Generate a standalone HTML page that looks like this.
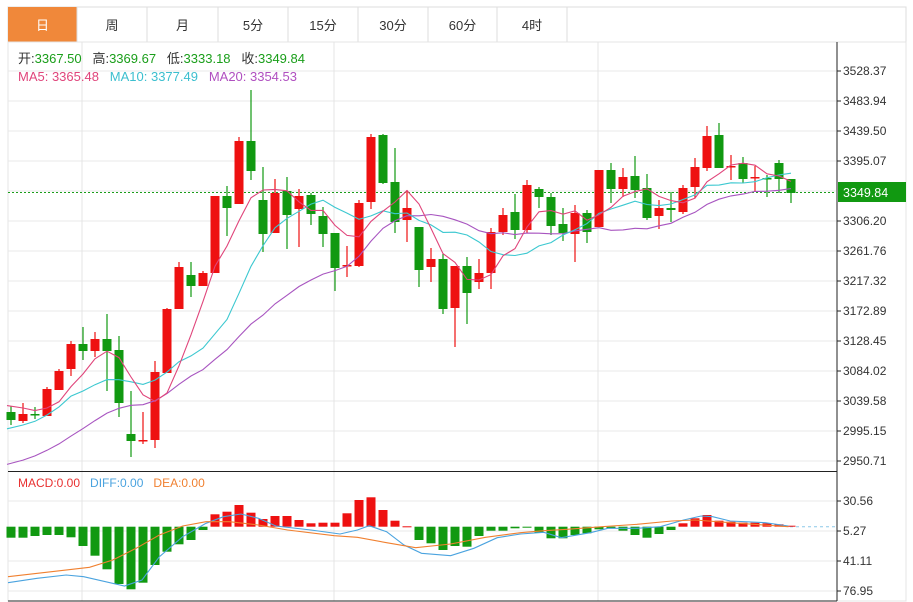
<!DOCTYPE html>
<html><head><meta charset="utf-8">
<style>
html,body{margin:0;padding:0;background:#fff;}
body{width:913px;height:602px;overflow:hidden;position:relative;font-family:"Liberation Sans","Noto Sans CJK SC",sans-serif;}
svg{position:absolute;left:0;top:0;}
</style></head><body>
<svg id="s" width="913" height="602" xmlns="http://www.w3.org/2000/svg" font-family="Liberation Sans, Noto Sans CJK SC, sans-serif"></svg>
<script>
var o=[];
function a(t){o.push(t);}
var tb=[8,77,147,218,288,358,428,497,567,906],tl=["日","周","月","5分","15分","30分","60分","4时",""];
a('<rect x="8" y="7" width="898" height="35" fill="#fff" stroke="#ddd"/>');
for(var i=0;i<9;i++){var x0=tb[i],x1=tb[i+1];
 if(i==0)a('<rect x="8" y="7" width="69" height="35" fill="#f0883a"/>');
 else a('<line x1="'+x0+'" y1="7" x2="'+x0+'" y2="42" stroke="#ddd"/>');
 a('<text x="'+((x0+x1)/2)+'" y="30" font-size="13" text-anchor="middle" fill="'+(i==0?'#fff':'#333')+'">'+tl[i]+'</text>');}
a('<rect x="8" y="42" width="898" height="559" fill="none" stroke="#e4e4e4"/>');
for(var k=0;k<14;k++){var y=71+k*30;a('<line x1="8" y1="'+y+'" x2="836" y2="'+y+'" stroke="#e8e8e8"/>');}
[501,531,561,591].forEach(function(y){a('<line x1="8" y1="'+y+'" x2="836" y2="'+y+'" stroke="#e8e8e8"/>');});
[82,334,598].forEach(function(x){a('<line x1="'+x+'" y1="42" x2="'+x+'" y2="601" stroke="#e4e4e4"/>');});
a('<line x1="837" y1="42" x2="837" y2="601" stroke="#222"/>');
a('<line x1="8" y1="471.5" x2="837" y2="471.5" stroke="#222"/>');
a('<line x1="8" y1="601" x2="837" y2="601" stroke="#222"/>');
var pl=["3528.37","3483.94","3439.50","3395.07","3350.63","3306.20","3261.76","3217.32","3172.89","3128.45","3084.02","3039.58","2995.15","2950.71"];
for(var k=0;k<14;k++){if(k==4)continue;var y=71+k*30;a('<line x1="837" y1="'+y+'" x2="841" y2="'+y+'" stroke="#222"/>');a('<text x="843" y="'+(y+4)+'" font-size="12" fill="#333">'+pl[k]+'</text>');}
[["30.56",501],["5.27",531],["41.11",561],["76.95",591]].forEach(function(p){a('<line x1="837" y1="'+p[1]+'" x2="841" y2="'+p[1]+'" stroke="#222"/>');a('<text x="843" y="'+(p[1]+4)+'" font-size="12" fill="#333">'+p[0]+'</text>');});
a('<text x="18" y="63" font-size="13" fill="#333" xml:space="preserve">开:<tspan fill="#1a9e1a">3367.50</tspan>   高:<tspan fill="#1a9e1a">3369.67</tspan>   低:<tspan fill="#1a9e1a">3333.18</tspan>   收:<tspan fill="#1a9e1a">3349.84</tspan></text>');
a('<text x="18" y="81" font-size="13" fill="#e0457b" xml:space="preserve">MA5: 3365.48   <tspan fill="#3cbfcf">MA10: 3377.49</tspan>   <tspan fill="#b050c0">MA20: 3354.53</tspan></text>');
a('<text x="18" y="487" font-size="12" fill="#e83030" xml:space="preserve">MACD:0.00   <tspan fill="#4aa3df">DIFF:0.00</tspan>   <tspan fill="#f08030">DEA:0.00</tspan></text>');
var C=[[412,420,406,425,0],[414,421,403,423,1],[414,415,407,419,0],[389,416,387,416,1],[371,390,369,390,1],[344,369,341,376,1],[344,351,327,360,0],[339,351,332,357,1],[339,351,314,391,0],[350,403,336,417,0],[434,441,391,457,0],[440,441,412,444,1],[372,440,361,448,1],[309,373,308,373,1],[267,309,262,309,1],[275,286,262,297,0],[273,286,271,286,1],[196,273,196,273,1],[196,208,186,236,0],[141,204,137,204,1],[141,171,90,180,0],[200,234,167,252,0],[193,233,179,233,1],[191,215,177,249,0],[196,209,189,247,1],[195,214,193,225,0],[216,234,207,247,0],[233,268,233,291,0],[265,266,246,277,1],[203,266,200,267,1],[137,202,134,209,1],[135,183,134,184,0],[182,222,148,233,0],[208,220,190,242,1],[227,270,227,287,0],[259,267,248,282,1],[259,309,254,314,0],[266,308,266,347,1],[266,293,257,324,0],[273,282,259,289,1],[232,273,228,289,1],[215,232,208,235,1],[212,230,194,239,0],[185,230,180,233,1],[189,197,187,208,0],[197,226,193,235,0],[224,233,208,241,0],[213,234,205,262,1],[213,232,210,243,0],[170,227,170,227,1],[170,189,163,203,0],[177,189,168,197,1],[176,190,156,198,0],[188,218,174,220,0],[208,216,200,229,1],[208,210,192,222,0],[188,212,185,214,1],[167,187,158,198,1],[136,168,126,171,1],[135,168,123,168,0],[166,167,155,180,1],[163,179,157,183,0],[177,178,166,192,1],[178,179,175,197,0],[163,179,160,193,0],[179,193,179,203,0]];
function X(i){return 11+i*12.0;}
var cl=[];for(var i=0;i<C.length;i++)cl.push(C[i][4]?C[i][0]:C[i][1]);
var pad=[];for(var i=0;i<19;i++)pad.push(i<10?500:(i<15?452:402));
var all=pad.concat(cl);
function ma(n,col){var pts=[];for(var i=0;i<C.length;i++){var s=0;for(var j=0;j<n;j++)s+=all[i+19-j];pts.push((X(i)-(i==0?4:0)).toFixed(1)+','+(s/n).toFixed(1));}
 a('<polyline points="'+pts.join(' ')+'" fill="none" stroke="'+col+'" stroke-width="1.1"/>');}
a('<line x1="8" y1="192.5" x2="836" y2="192.5" stroke="#1a9e1a" stroke-dasharray="2,2"/>');
for(var i=0;i<C.length;i++){var c=C[i],x=X(i),col=c[4]?'#ee1111':'#119911';
 a('<line x1="'+x+'" y1="'+c[2]+'" x2="'+x+'" y2="'+c[3]+'" stroke="'+col+'" stroke-width="1.2"/>');
 var h=Math.max(c[1]-c[0],1.5);a('<rect x="'+(x-4.5)+'" y="'+c[0]+'" width="9" height="'+h+'" fill="'+col+'"/>');}
ma(20,'#a855c0');ma(10,'#3cc8d0');ma(5,'#e0457b');
a('<rect x="838" y="182" width="68" height="20" fill="#119911"/>');
a('<text x="843" y="197" font-size="12.5" fill="#fff">3349.84</text>');
var Z=526.7;
a('<line x1="790" y1="'+Z+'" x2="836" y2="'+Z+'" stroke="#8cc8e8" stroke-dasharray="3,3"/>');
var M=[233,233,228,225,225,232,258,287,328,372,388,368,315,275,253,240,210,163,155,135,158,177,168,168,180,190,188,188,160,120,112,150,182,199,240,250,270,258,260,228,212,212,205,203,218,235,235,225,220,208,205,212,225,233,222,210,190,175,165,182,185,188,188,190,193,197];
for(var i=0;i<C.length;i++){var y=460+M[i]/3,x=X(i);var t=Math.min(y,Z),h=Math.abs(y-Z);if(h<1)h=1;
 a('<rect x="'+(x-4.5)+'" y="'+t.toFixed(1)+'" width="9" height="'+h.toFixed(1)+'" fill="'+(y<Z?'#ee1111':'#119911')+'"/>');}
function ln(p,col){var s=[];for(var i=0;i<p.length;i+=2)s.push((8+p[i]/1.717).toFixed(1)+','+(460+p[i+1]/3).toFixed(1));a('<polyline points="'+s.join(' ')+'" fill="none" stroke="'+col+'" stroke-width="1.1"/>');}
ln([0,368,50,355,100,345,130,350,200,378,230,360,260,290,300,230,340,190,370,170,400,162,430,175,460,198,520,210,570,222,600,210,620,197,650,215,680,255,710,280,760,287,800,265,840,233,880,222,920,217,950,233,1000,218,1030,205,1080,205,1120,200,1160,180,1190,168,1210,170,1240,183,1300,188,1340,198],'#4aa3df');
ln([0,350,60,338,140,322,180,300,220,265,260,225,300,198,340,185,380,185,430,195,480,210,560,227,600,232,650,248,700,263,760,252,820,232,880,218,920,212,960,208,1020,200,1080,193,1140,183,1180,180,1240,188,1340,200],'#f08030');
document.getElementById('s').innerHTML=o.join('');
</script>
</body></html>
